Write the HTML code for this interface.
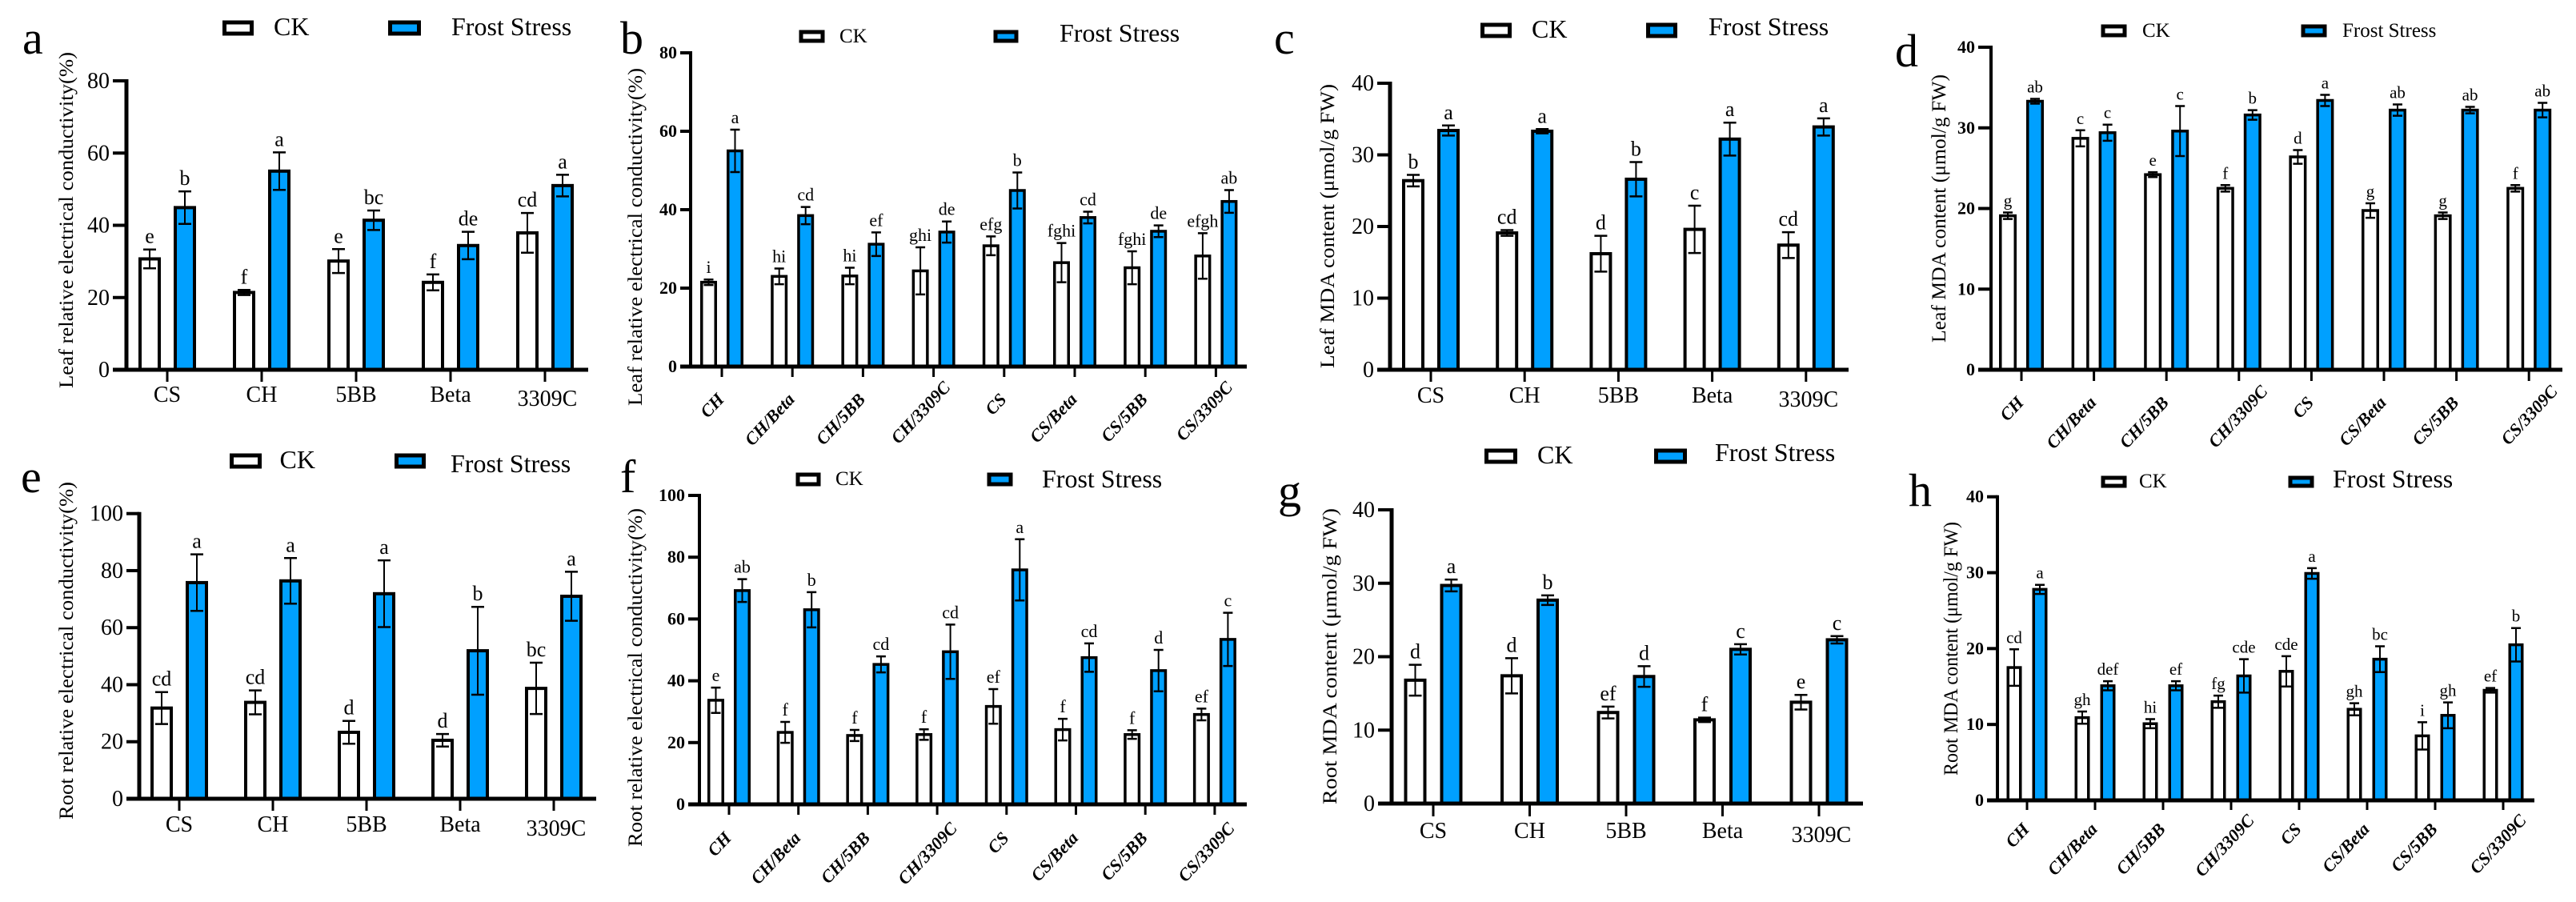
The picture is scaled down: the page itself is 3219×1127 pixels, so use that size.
<!DOCTYPE html>
<html lang="en">
<head>
<meta charset="utf-8">
<title>Frost stress conductivity and MDA panels</title>
<style>
  html, body { margin: 0; padding: 0; background: #fff; }
  svg { display: block; }
  text { font-family: "Liberation Serif", serif; fill: #000; }
  .pl { font-size: 58px; }
  .lg { font-size: 32px; }
  .lgs { font-size: 25px; }
  .yt { font-size: 25px; }
  .box-ck { fill: #fff; stroke: #000; stroke-width: 5; }
  .box-fs { fill: #00a0ff; stroke: #000; stroke-width: 5; }
</style>
</head>
<body>
<svg id="figure" xmlns="http://www.w3.org/2000/svg" width="3219" height="1127" viewBox="0 0 3219 1127">
  <rect x="0" y="0" width="3219" height="1127" fill="#fff"/>

  <!-- Panel letters -->
  <text class="pl" x="28" y="67">a</text>
  <text class="pl" x="775" y="67">b</text>
  <text class="pl" x="1592" y="67">c</text>
  <text class="pl" x="2368" y="83">d</text>
  <text class="pl" x="26" y="615">e</text>
  <text class="pl" x="775" y="615">f</text>
  <text class="pl" x="1597" y="633">g</text>
  <text class="pl" x="2385" y="632">h</text>

  <!-- Legends -->
  <g>
    <rect class="box-ck" x="280.5" y="28" width="34" height="14"/>
    <text class="lg" x="342" y="44">CK</text>
    <rect class="box-fs" x="487.5" y="28" width="36" height="14"/>
    <text class="lg" x="564" y="44">Frost Stress</text>
  </g>
  <g>
    <rect class="box-ck" x="1001" y="40" width="27" height="11"/>
    <text class="lgs" x="1049" y="53">CK</text>
    <rect class="box-fs" x="1244" y="40" width="26" height="11"/>
    <text class="lg" x="1324" y="52">Frost Stress</text>
  </g>
  <g>
    <rect class="box-ck" x="1852.5" y="31" width="34" height="14"/>
    <text class="lg" x="1914" y="47">CK</text>
    <rect class="box-fs" x="2059.5" y="31" width="34" height="14"/>
    <text class="lg" x="2135" y="44">Frost Stress</text>
  </g>
  <g>
    <rect class="box-ck" x="2628" y="33" width="27" height="11"/>
    <text class="lgs" x="2677" y="46">CK</text>
    <rect class="box-fs" x="2878" y="33" width="27" height="11"/>
    <text class="lgs" x="2927" y="46">Frost Stress</text>
  </g>
  <g>
    <rect class="box-ck" x="289.5" y="569" width="35" height="14"/>
    <text class="lg" x="349.5" y="585">CK</text>
    <rect class="box-fs" x="495.5" y="569" width="34" height="14"/>
    <text class="lg" x="563" y="590">Frost Stress</text>
  </g>
  <g>
    <rect class="box-ck" x="997" y="593" width="26" height="12"/>
    <text class="lgs" x="1044" y="606">CK</text>
    <rect class="box-fs" x="1236" y="593" width="27" height="12"/>
    <text class="lg" x="1302" y="609">Frost Stress</text>
  </g>
  <g>
    <rect class="box-ck" x="1857.5" y="563" width="36" height="14"/>
    <text class="lg" x="1921" y="579">CK</text>
    <rect class="box-fs" x="2069.5" y="563" width="36" height="14"/>
    <text class="lg" x="2143" y="576">Frost Stress</text>
  </g>
  <g>
    <rect class="box-ck" x="2628" y="597" width="27" height="10"/>
    <text class="lgs" x="2673" y="609">CK</text>
    <rect class="box-fs" x="2862" y="597" width="27" height="10"/>
    <text class="lg" x="2915" y="609">Frost Stress</text>
  </g>

  <!-- Y axis titles -->
  <text class="yt" transform="translate(91,485) rotate(-90)" textLength="420" lengthAdjust="spacingAndGlyphs">Leaf relative electrical conductivity(%)</text>
  <text class="yt" transform="translate(802,507) rotate(-90)" textLength="422" lengthAdjust="spacingAndGlyphs">Leaf relative electrical conductivity(%)</text>
  <text class="yt" transform="translate(1667,460) rotate(-90)" textLength="355" lengthAdjust="spacingAndGlyphs">Leaf MDA content (μmol/g FW)</text>
  <text class="yt" transform="translate(2431,428) rotate(-90)" textLength="335" lengthAdjust="spacingAndGlyphs">Leaf MDA content (μmol/g FW)</text>
  <text class="yt" transform="translate(91,1024) rotate(-90)" textLength="422" lengthAdjust="spacingAndGlyphs">Root relative electrical conductivity(%)</text>
  <text class="yt" transform="translate(802,1058) rotate(-90)" textLength="423" lengthAdjust="spacingAndGlyphs">Root relative electrical conductivity(%)</text>
  <text class="yt" transform="translate(1670,1005) rotate(-90)" textLength="370" lengthAdjust="spacingAndGlyphs">Root MDA content (μmol/g FW)</text>
  <text class="yt" transform="translate(2446,969) rotate(-90)" textLength="317" lengthAdjust="spacingAndGlyphs">Root MDA content (μmol/g FW)</text>
</svg>

<script>
const rootstockCategories = ["CS", "CH", "5BB", "Beta", "3309C"];
const graftCategories = ["CH", "CH/Beta", "CH/5BB", "CH/3309C", "CS", "CS/Beta", "CS/5BB", "CS/3309C"];

const aTicks = [0, 20, 40, 60, 80];
const aCk = [30.7, 21.4, 30.1, 24.2, 37.9];
const aCkErr = [2.6, 0.7, 3.3, 2.2, 5.5];
const aFrost = [44.9, 55, 41.4, 34.4, 51];
const aFrostErr = [4.5, 5.2, 2.7, 3.8, 3];
const aCkLetters = ["e", "f", "e", "f", "cd"];
const aFrostLetters = ["b", "a", "bc", "de", "a"];

const bTicks = [0, 20, 40, 60, 80];
const bCk = [21.5, 23, 23.1, 24.4, 30.8, 26.5, 25.2, 28.2];
const bCkErr = [0.7, 2, 2.1, 6, 2.4, 5, 4.2, 5.8];
const bFrost = [55, 38.5, 31.2, 34.3, 44.9, 38, 34.5, 42.1];
const bFrostErr = [5.4, 2.2, 3, 2.7, 4.6, 1.5, 1.5, 2.9];
const bCkLetters = ["i", "hi", "hi", "ghi", "efg", "fghi", "fghi", "efgh"];
const bFrostLetters = ["a", "cd", "ef", "de", "b", "cd", "de", "ab"];

const cTicks = [0, 10, 20, 30, 40];
const cCk = [26.4, 19.1, 16.2, 19.6, 17.4];
const cCkErr = [0.8, 0.4, 2.5, 3.3, 1.8];
const cFrost = [33.4, 33.3, 26.6, 32.2, 33.9];
const cFrostErr = [0.7, 0.3, 2.4, 2.3, 1.2];
const cCkLetters = ["b", "cd", "d", "c", "cd"];
const cFrostLetters = ["a", "a", "b", "a", "a"];

const dTicks = [0, 10, 20, 30, 40];
const dCk = [19.1, 28.7, 24.2, 22.5, 26.4, 19.75, 19.1, 22.5];
const dCkErr = [0.4, 1, 0.3, 0.4, 0.85, 0.9, 0.4, 0.4];
const dFrost = [33.3, 29.4, 29.6, 31.6, 33.4, 32.2, 32.2, 32.2];
const dFrostErr = [0.3, 1, 3.1, 0.6, 0.7, 0.7, 0.4, 0.9];
const dCkLetters = ["g", "c", "e", "f", "d", "g", "g", "f"];
const dFrostLetters = ["ab", "c", "c", "b", "a", "ab", "ab", "ab"];

const eTicks = [0, 20, 40, 60, 80, 100];
const eCk = [31.8, 33.8, 23.3, 20.5, 38.7];
const eCkErr = [5.6, 4.2, 4, 2.2, 9];
const eFrost = [75.8, 76.4, 71.9, 51.9, 71];
const eFrostErr = [9.9, 8, 11.7, 15.4, 8.6];
const eCkLetters = ["cd", "cd", "d", "d", "bc"];
const eFrostLetters = ["a", "a", "a", "b", "a"];

const fTicks = [0, 20, 40, 60, 80, 100];
const fCk = [33.7, 23.3, 22.3, 22.6, 31.7, 24.2, 22.6, 29.1];
const fCkErr = [4.1, 3.4, 1.8, 1.7, 5.6, 3.5, 1.4, 1.9];
const fFrost = [69.2, 63, 45.3, 49.4, 75.9, 47.5, 43.3, 53.4];
const fFrostErr = [3.7, 5.7, 2.6, 8.8, 9.9, 4.6, 6.7, 8.6];
const fCkLetters = ["e", "f", "f", "f", "ef", "f", "f", "ef"];
const fFrostLetters = ["ab", "b", "cd", "cd", "a", "cd", "d", "c"];

const gTicks = [0, 10, 20, 30, 40];
const gCk = [16.8, 17.4, 12.4, 11.4, 13.8];
const gCkErr = [2.1, 2.4, 0.8, 0.3, 1];
const gFrost = [29.7, 27.7, 17.3, 21, 22.3];
const gFrostErr = [0.8, 0.65, 1.4, 0.7, 0.5];
const gCkLetters = ["d", "d", "ef", "f", "e"];
const gFrostLetters = ["a", "b", "d", "c", "c"];

const hTicks = [0, 10, 20, 30, 40];
const hCk = [17.5, 10.9, 10.1, 13, 17, 12, 8.5, 14.5];
const hCkErr = [2.4, 0.8, 0.6, 0.8, 2, 0.8, 1.8, 0.3];
const hFrost = [27.8, 15.1, 15.1, 16.4, 29.9, 18.6, 11.2, 20.5];
const hFrostErr = [0.6, 0.6, 0.6, 2.2, 0.7, 1.7, 1.7, 2.2];
const hCkLetters = ["cd", "gh", "hi", "fg", "cde", "gh", "i", "ef"];
const hFrostLetters = ["a", "def", "ef", "cde", "a", "bc", "gh", "b"];

/* Layout of each panel (pixels), separate from the data above. */
const panels = [
  { id: "a", cats: rootstockCategories, ticks: aTicks, ck: aCk, ckErr: aCkErr, frost: aFrost, frostErr: aFrostErr, ckL: aCkLetters, frostL: aFrostLetters,
    axisX: 158, xStart: 141, xEnd: 735, base: 462, top: 101, first: 209, step: 118, off: 22, barW: 28, tickB: 477, big: true, labY: 502, tf: 28, lf: 26 },
  { id: "b", cats: graftCategories, ticks: bTicks, ck: bCk, ckErr: bCkErr, frost: bFrost, frostErr: bFrostErr, ckL: bCkLetters, frostL: bFrostLetters,
    axisX: 863, xStart: 850, xEnd: 1558, base: 458, top: 66, first: 902, step: 88.2, off: 16.5, barW: 21, tickB: 471, big: false, labY: 500, rdx: 18, rdy: -15, tf: 22, lf: 22 },
  { id: "c", cats: rootstockCategories, ticks: cTicks, ck: cCk, ckErr: cCkErr, frost: cFrost, frostErr: cFrostErr, ckL: cCkLetters, frostL: cFrostLetters,
    axisX: 1737, xStart: 1721, xEnd: 2310, base: 462, top: 104, first: 1788, step: 117.2, off: 22, barW: 28, tickB: 477, big: true, labY: 503, tf: 28, lf: 26 },
  { id: "d", cats: graftCategories, ticks: dTicks, ck: dCk, ckErr: dCkErr, frost: dFrost, frostErr: dFrostErr, ckL: dCkLetters, frostL: dFrostLetters,
    axisX: 2488, xStart: 2472, xEnd: 3202, base: 462, top: 59, first: 2526, step: 90.6, off: 17, barW: 22, tickB: 476, big: false, labY: 504, rdx: 33, rdy: -14, tf: 22, lf: 21 },
  { id: "e", cats: rootstockCategories, ticks: eTicks, ck: eCk, ckErr: eCkErr, frost: eFrost, frostErr: eFrostErr, ckL: eCkLetters, frostL: eFrostLetters,
    axisX: 174, xStart: 158, xEnd: 745, base: 998, top: 641.7, first: 224, step: 117, off: 22, barW: 28, tickB: 1013, big: true, labY: 1039, tf: 28, lf: 26 },
  { id: "f", cats: graftCategories, ticks: fTicks, ck: fCk, ckErr: fCkErr, frost: fFrost, frostErr: fFrostErr, ckL: fCkLetters, frostL: fFrostLetters,
    axisX: 874, xStart: 860, xEnd: 1558, base: 1005, top: 619, first: 911, step: 86.7, off: 16.5, barW: 21, tickB: 1018, big: false, labY: 1048, rdx: 22, rdy: -12, tf: 22, lf: 22 },
  { id: "g", cats: rootstockCategories, ticks: gTicks, ck: gCk, ckErr: gCkErr, frost: gFrost, frostErr: gFrostErr, ckL: gCkLetters, frostL: gFrostLetters,
    axisX: 1739, xStart: 1722, xEnd: 2328, base: 1004, top: 637, first: 1791, step: 120.5, off: 22.5, barW: 28, tickB: 1020, big: true, labY: 1047, tf: 28, lf: 26 },
  { id: "h", cats: graftCategories, ticks: hTicks, ck: hCk, ckErr: hCkErr, frost: hFrost, frostErr: hFrostErr, ckL: hCkLetters, frostL: hFrostLetters,
    axisX: 2496, xStart: 2483, xEnd: 3167, base: 1000, top: 620.7, first: 2533, step: 85, off: 16, barW: 19, tickB: 1012, big: false, labY: 1037, rdx: 26, rdy: -11, tf: 22, lf: 21 }
];

const SVG_NS = "http://www.w3.org/2000/svg";
const figure = document.getElementById("figure");

function make(tag, attrs, parent) {
  const node = document.createElementNS(SVG_NS, tag);
  for (const key in attrs) node.setAttribute(key, attrs[key]);
  parent.appendChild(node);
  return node;
}

function drawSeries(p, g, kind, values, errors, letters, xOf, yOf) {
  const sw = p.big ? 4 : 3.5;
  const capHalf = p.big ? 8 : 6;
  values.forEach(function (value, i) {
    const cx = xOf(i) + (kind === "ck" ? -p.off : p.off);
    const bar = make("rect", {
      x: cx - p.barW / 2 + sw / 2,
      y: yOf(value),
      width: p.barW - sw,
      height: p.base - yOf(value),
      fill: kind === "ck" ? "#ffffff" : "#00a0ff",
      stroke: "#000",
      "stroke-width": sw
    }, g);
    
    

    const hi = yOf(value + errors[i]);
    const lo = yOf(value - errors[i]);
    const stem = make("path", {
      d: "M" + cx + " " + hi + "V" + lo,
      stroke: "#000", "stroke-width": 2, fill: "none"
    }, g);
    
    
    const caps = make("path", {
      d: "M" + (cx - capHalf) + " " + hi + "H" + (cx + capHalf) + "M" + (cx - capHalf) + " " + lo + "H" + (cx + capHalf),
      stroke: "#000", "stroke-width": 2.5, fill: "none"
    }, g);
    
    

    const letter = make("text", {
      x: cx, y: hi - 8, "text-anchor": "middle", "font-size": p.lf
    }, g);
    letter.textContent = letters[i];
    
    
  });
}

panels.forEach(function (p) {
  const yMax = p.ticks[p.ticks.length - 1];
  const yOf = function (v) { return p.base - (v / yMax) * (p.base - p.top); };
  const xOf = function (i) { return p.first + i * p.step; };
  const bold = p.big ? "400" : "700";
  const axisW = p.big ? 5 : 4;

  const g = make("g", {}, figure);
  
  

  drawSeries(p, g, "ck", p.ck, p.ckErr, p.ckL, xOf, yOf);
  drawSeries(p, g, "frost", p.frost, p.frostErr, p.frostL, xOf, yOf);

  const yAxis = make("line", {
    x1: p.axisX, x2: p.axisX, y1: p.top - 2, y2: p.base,
    stroke: "#000", "stroke-width": axisW
  }, g);
  
  

  const xAxis = make("line", {
    x1: p.xStart, x2: p.xEnd, y1: p.base, y2: p.base,
    stroke: "#000", "stroke-width": 5
  }, g);
  
  

  p.ticks.forEach(function (t) {
    if (t !== 0) {
      const tick = make("line", {
        x1: p.xStart, x2: p.axisX, y1: yOf(t), y2: yOf(t),
        stroke: "#000", "stroke-width": 4
      }, g);
      
      
    }
    const label = make("text", {
      x: p.xStart - 4,
      y: yOf(t) + (p.big ? 9 : 7),
      "text-anchor": "end",
      "font-size": p.tf,
      "font-weight": bold
    }, g);
    label.textContent = t;
    
    
  });

  p.cats.forEach(function (cat, i) {
    const tick = make("line", {
      x1: xOf(i), x2: xOf(i), y1: p.base, y2: p.tickB,
      stroke: "#000", "stroke-width": 3
    }, g);
    
    

    const isLong = cat.indexOf("3309C") !== -1;
    let label;
    if (p.big) {
      label = make("text", {
        x: xOf(i) + (isLong ? 3 : 0),
        y: p.labY + (isLong ? 5 : 0),
        "text-anchor": "middle",
        "font-size": 28
      }, g);
    } else {
      const ax = xOf(i) + 4 + (isLong ? p.rdx : 0);
      const ay = p.labY + (isLong ? p.rdy : 0);
      label = make("text", {
        x: ax, y: ay,
        transform: "rotate(-47 " + ax + " " + ay + ")",
        "text-anchor": "end",
        "font-size": 22,
        "font-weight": "700",
        "font-style": "italic"
      }, g);
    }
    label.textContent = cat;
    
    
  });
});
</script>
</body>
</html>
